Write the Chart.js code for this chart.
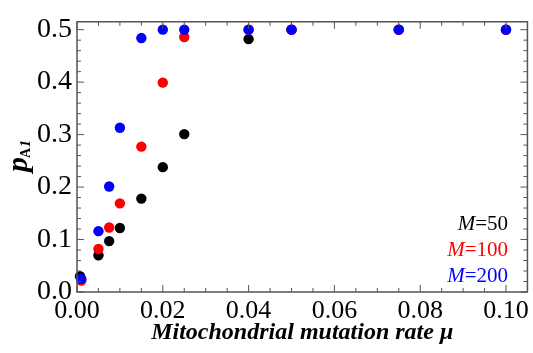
<!DOCTYPE html>
<html>
<head>
<meta charset="utf-8">
<script src="https://cdn.jsdelivr.net/npm/chart.js@4"></script>
<style>
  html, body { margin: 0; padding: 0; background: #fff; }
  #wrap { width: 533px; height: 353px; }
</style>
</head>
<body>
<div id="wrap"><canvas id="myChart" width="533" height="353"></canvas></div>
<script>
//Data
var mu50  = [0.0007, 0.005, 0.0075, 0.01, 0.015, 0.02, 0.025, 0.04, 0.05, 0.075, 0.1];
var p50   = [0.030, 0.070, 0.097, 0.122, 0.178, 0.238, 0.301, 0.482, 0.5, 0.5, 0.5];
var mu100 = [0.001, 0.005, 0.0075, 0.01, 0.015, 0.02, 0.025, 0.04, 0.05, 0.075, 0.1];
var p100  = [0.022, 0.082, 0.123, 0.169, 0.277, 0.399, 0.486, 0.5, 0.5, 0.5, 0.5];
var mu200 = [0.001, 0.005, 0.0075, 0.01, 0.015, 0.02, 0.025, 0.04, 0.05, 0.075, 0.1];
var p200  = [0.025, 0.116, 0.201, 0.313, 0.484, 0.5, 0.5, 0.5, 0.5, 0.5, 0.5];

var legendNames = ["50", "100", "200"];
var legendColors = ["#000000", "#ff0000", "#0000ff"];

var serif = "Liberation Serif";
var frameCol = "#555";

Chart.defaults.font.family = serif;

const toPts = (xs, ys) => xs.map((x, i) => ({x: x, y: ys[i]}));

//Inward ticks, frame, titles and the text legend
const decor = {
  id: 'decor',
  afterDraw(chart) {
    const ctx = chart.ctx;
    const a = chart.chartArea;
    const xs = chart.scales.x, ys = chart.scales.y;
    ctx.save();
    ctx.strokeStyle = frameCol;
    ctx.lineWidth = 1.5;
    ctx.strokeRect(a.left, a.top, a.right - a.left, a.bottom - a.top);

    ctx.lineWidth = 1;
    ctx.beginPath();
    for (var i = 0; i <= 20; i++) {
      var v = i * 0.005;
      var px = xs.getPixelForValue(v);
      var len = (i % 4 === 0) ? 7 : 4;
      ctx.moveTo(px, a.bottom); ctx.lineTo(px, a.bottom - len);
      ctx.moveTo(px, a.top); ctx.lineTo(px, a.top + len);
    }
    for (var j = 0; j <= 25; j++) {
      var vy = j * 0.02;
      var py = ys.getPixelForValue(vy);
      var leny = (j % 5 === 0) ? 7 : 4;
      ctx.moveTo(a.left, py); ctx.lineTo(a.left + leny, py);
      ctx.moveTo(a.right, py); ctx.lineTo(a.right - leny, py);
    }
    ctx.stroke();

    //x title
    ctx.fillStyle = "#000";
    ctx.textAlign = "center";
    ctx.textBaseline = "alphabetic";
    ctx.font = "bold italic 24px '" + serif + "'";
    ctx.fillText("Mitochondrial mutation rate μ", (a.left + a.right) / 2, 339);

    //y title p_A1
    ctx.save();
    ctx.translate(27, 172);
    ctx.rotate(-Math.PI / 2);
    ctx.textAlign = "left";
    ctx.font = "bold italic 30px '" + serif + "'";
    ctx.fillText("p", 0, 0);
    var pw = ctx.measureText("p").width;
    ctx.font = "bold 14px '" + serif + "'";
    ctx.fillText("A", pw - 1, 3);
    var aw = ctx.measureText("A").width;
    ctx.font = "bold italic 14px '" + serif + "'";
    ctx.fillText("1", pw + aw, 3);
    ctx.restore();

    //legend text, right aligned
    var rightX = 508;
    var rows = [230, 256, 282];
    ctx.textAlign = "left";
    for (var k = 0; k < legendNames.length; k++) {
      ctx.fillStyle = legendColors[k];
      ctx.font = "21px '" + serif + "'";
      var rest = "=" + legendNames[k];
      var rw = ctx.measureText(rest).width;
      ctx.font = "italic 21px '" + serif + "'";
      var mw = ctx.measureText("M").width;
      var x0 = rightX - rw - mw;
      ctx.fillText("M", x0, rows[k]);
      ctx.font = "21px '" + serif + "'";
      ctx.fillText(rest, x0 + mw, rows[k]);
    }
    ctx.restore();
  }
};

const data = {
  datasets: [
    { label: "M=50",  data: toPts(mu50, p50),   backgroundColor: "#000000", order: 3 },
    { label: "M=100", data: toPts(mu100, p100), backgroundColor: "#ff0000", order: 2 },
    { label: "M=200", data: toPts(mu200, p200), backgroundColor: "#0000ff", order: 1 }
  ]
};

const config = {
  type: "scatter",
  data: data,
  options: {
    responsive: false,
    animation: false,
    layout: { padding: { top: 12, right: 4, left: 0, bottom: 0 } },
    elements: { point: { radius: 5.2, borderWidth: 0, hoverRadius: 5.2 } },
    datasets: { scatter: { clip: false } },
    plugins: { legend: { display: false }, tooltip: { enabled: false } },
    scales: {
      x: {
        type: "linear",
        min: 0, max: 0.105,
        afterFit: function(s) { s.height = 61; },
        grid: { display: false, drawTicks: false },
        border: { display: false },
        ticks: {
          stepSize: 0.02,
          includeBounds: false,
          padding: 4,
          color: "#000",
          maxRotation: 0,
          font: { family: serif, size: 26 },
          callback: function(v) { return v.toFixed(2); }
        }
      },
      y: {
        type: "linear",
        min: 0, max: 0.515,
        afterFit: function(s) { s.width = 77; },
        grid: { display: false, drawTicks: false },
        border: { display: false },
        ticks: {
          stepSize: 0.1,
          includeBounds: false,
          padding: 5,
          color: "#000",
          font: { family: serif, size: 28 },
          callback: function(v) { return v.toFixed(1); }
        }
      }
    }
  },
  plugins: [decor]
};

var canvas = document.getElementById('myChart').getContext('2d');
var myChart = new Chart(canvas, config);
</script>
</body>
</html>
